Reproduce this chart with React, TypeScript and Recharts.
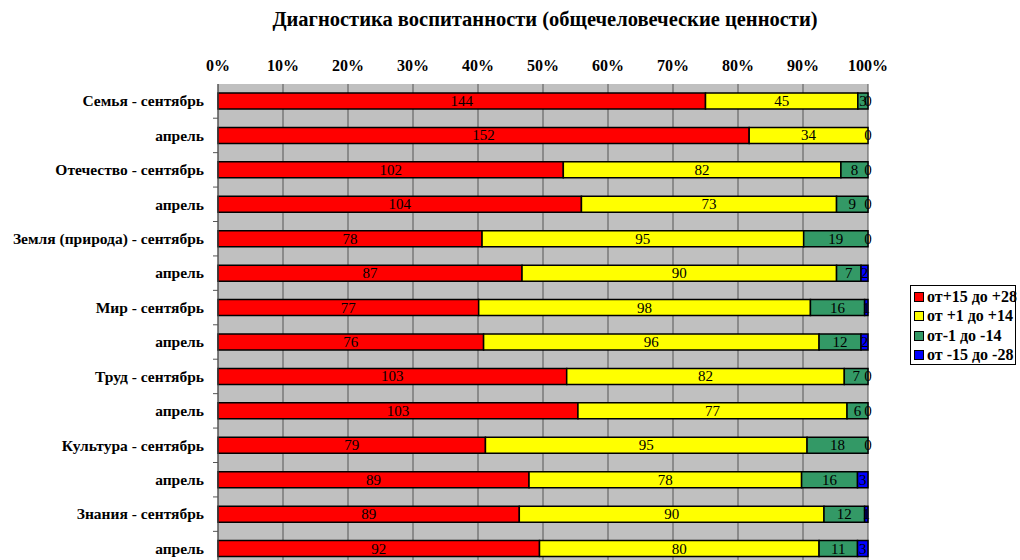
import { BarChart, Bar, XAxis, YAxis, CartesianGrid, LabelList } from 'recharts';

const categories = [
  'Семья - сентябрь',
  'апрель',
  'Отечество - сентябрь',
  'апрель',
  'Земля (природа) - сентябрь',
  'апрель',
  'Мир - сентябрь',
  'апрель',
  'Труд - сентябрь',
  'апрель',
  'Культура - сентябрь',
  'апрель',
  'Знания - сентябрь',
  'апрель',
];

const plus15 = [144, 152, 102, 104, 78, 87, 77, 76, 103, 103, 79, 89, 89, 92];
const plus1 = [45, 34, 82, 73, 95, 90, 98, 96, 82, 77, 95, 78, 90, 80];
const minus1 = [3, 0, 8, 9, 19, 7, 16, 12, 7, 6, 18, 16, 12, 11];
const minus15 = [0, 0, 0, 0, 0, 2, 1, 2, 0, 0, 0, 3, 1, 3];

const xTicks = [0, 0.1, 0.2, 0.3, 0.4, 0.5, 0.6, 0.7, 0.8, 0.9, 1];

const series = [
  { key: 'a', name: 'от+15 до +28', color: '#ff0000' },
  { key: 'b', name: 'от +1 до +14', color: '#ffff00' },
  { key: 'c', name: 'от-1 до -14', color: '#339966' },
  { key: 'd', name: 'от -15 до -28', color: '#0000ff' },
];

const data = categories.map((name, i) => ({
  id: i,
  name,
  a: plus15[i],
  b: plus1[i],
  c: minus1[i],
  d: minus15[i],
}));

const serif = '"Liberation Serif", "Times New Roman", serif';

// label for one segment; the last non-zero segment of a row also shows the trailing "0"
function makeSegmentLabel(seriesIndex: number) {
  const key = series[seriesIndex].key;
  return function SegmentLabel(props: any) {
    const { x, y, width, height, index, value } = props;
    let row: any = value && typeof value === 'object' ? value : null;
    if (!row) row = data.filter((r: any) => r[key] !== 0)[index];
    if (!row) return null;
    const v = row[key];
    const rest = series.slice(seriesIndex + 1).map((s) => row[s.key]);
    const hasTrailingZero = rest.length > 0 && rest.every((r) => r === 0);
    const cy = y + height / 2;
    return (
      <g>
        {v > 0 && (
          <text
            x={x + width / 2}
            y={cy}
            dy={5}
            textAnchor="middle"
            fontFamily={serif}
            fontSize={15}
            fill="#000"
          >
            {v}
          </text>
        )}
        {v > 0 && hasTrailingZero && (
          <text
            x={x + width}
            y={cy}
            dy={5}
            textAnchor="middle"
            fontFamily={serif}
            fontSize={15}
            fill="#000"
          >
            0
          </text>
        )}
      </g>
    );
  };
}

function CategoryTick(props: any) {
  const { x, y, payload } = props;
  return (
    <g>
      <text
        x={x - 6}
        y={y}
        dy={5}
        textAnchor="end"
        fontFamily={serif}
        fontSize={15.5}
        fontWeight="bold"
        fill="#000"
      >
        {categories[payload.index] ?? payload.value}
      </text>
      <line x1={x + 3} x2={x + 8} y1={y + 17} y2={y + 17} stroke="#555" />
    </g>
  );
}

function LegendBox() {
  return (
    <div
      style={{
        position: 'absolute',
        left: 910,
        top: 285,
        width: 106,
        height: 80,
        boxSizing: 'border-box',
        border: '1px solid #000',
        background: '#fff',
        padding: '1px 0 0 3px',
        fontFamily: serif,
        fontSize: 16,
        fontWeight: 'bold',
      }}
    >
      {series.map((s) => (
        <div key={s.key} style={{ display: 'flex', alignItems: 'center', height: 19.5 }}>
          <span
            style={{
              display: 'inline-block',
              width: 8,
              height: 8,
              flex: 'none',
              background: s.color,
              border: '1.5px solid #000',
              marginRight: 3,
            }}
          />
          <span style={{ whiteSpace: 'nowrap' }}>{s.name}</span>
        </div>
      ))}
    </div>
  );
}

export default function App() {
  return (
    <div
      style={{
        position: 'absolute',
        left: 0,
        top: 0,
        width: 1020,
        height: 560,
        overflow: 'hidden',
        background: '#fff',
      }}
    >
      <div
        style={{
          position: 'absolute',
          left: 0,
          width: 1090,
          top: 8,
          textAlign: 'center',
          fontFamily: serif,
          fontSize: 20.5,
          fontWeight: 'bold',
        }}
      >
        Диагностика воспитанности (общечеловеческие ценности)
      </div>
      <BarChart
        width={1020}
        height={566}
        data={data}
        layout="vertical"
        stackOffset="expand"
        barSize={16}
        margin={{ top: 54, right: 152, bottom: 0, left: 0 }}
      >
        <CartesianGrid horizontal={false} stroke="#555" fill="#c0c0c0" />
        <XAxis
          type="number"
          orientation="top"
          domain={[0, 1]}
          ticks={xTicks}
          tickFormatter={(v: number) => `${Math.round(v * 100)}%`}
          axisLine={false}
          tickLine={false}
          tickMargin={7}
          height={30}
          tick={{ fontFamily: serif, fontSize: 16, fontWeight: 'bold', fill: '#000' }}
        />
        <YAxis
          type="category"
          dataKey="id"
          width={218}
          interval={0}
          axisLine={{ stroke: '#555' }}
          tickLine={false}
          tick={<CategoryTick />}
        />
        {series.map((s, si) => (
          <Bar
            key={s.key}
            dataKey={s.key}
            name={s.name}
            stackId="x"
            fill={s.color}
            stroke="#000"
            strokeWidth={1.5}
            isAnimationActive={false}
          >
            <LabelList
              valueAccessor={(entry: any) => entry.payload}
              content={makeSegmentLabel(si)}
            />
          </Bar>
        ))}
      </BarChart>
      <LegendBox />
    </div>
  );
}
